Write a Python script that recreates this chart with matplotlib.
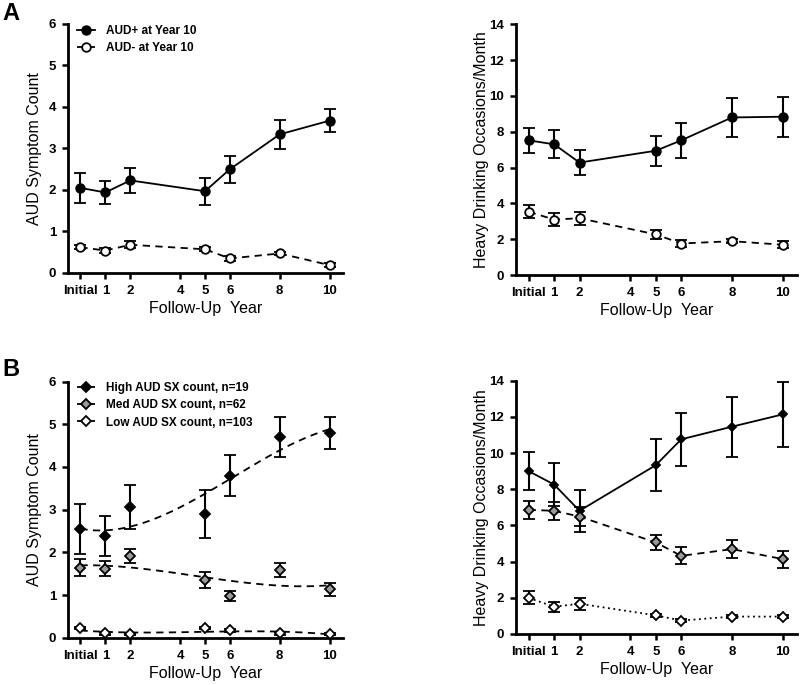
import numpy as np
import matplotlib.pyplot as plt

plt.rcParams['font.family'] = ['Liberation Sans', 'DejaVu Sans']

years = [0, 1, 2, 5, 6, 8, 10]
tick_pos = [0, 1, 2, 4, 5, 6, 8, 10]
tick_labels = ['Initial', '1', '2', '4', '5', '6', '8', '10']

# Panel A - AUD symptom count
a_sx_pos = [2.05, 1.94, 2.23, 1.97, 2.50, 3.34, 3.67]
a_sx_pos_err = [0.36, 0.28, 0.31, 0.33, 0.33, 0.35, 0.27]
a_sx_neg = [0.62, 0.54, 0.68, 0.57, 0.35, 0.47, 0.19]
a_sx_neg_err = [0.05, 0.05, 0.08, 0.05, 0.05, 0.04, 0.04]

# Panel A - heavy drinking occasions
a_hd_pos = [7.52, 7.30, 6.28, 6.94, 7.52, 8.80, 8.84]
a_hd_pos_err = [0.71, 0.78, 0.70, 0.84, 0.97, 1.08, 1.12]
a_hd_neg = [3.53, 3.10, 3.17, 2.27, 1.76, 1.89, 1.69]
a_hd_neg_err = [0.36, 0.35, 0.35, 0.25, 0.20, 0.10, 0.20]

# Panel B - AUD symptom count by group
b_sx_high = [2.55, 2.38, 3.06, 2.90, 3.79, 4.70, 4.80]
b_sx_high_err = [0.58, 0.46, 0.52, 0.57, 0.48, 0.46, 0.37]
b_sx_med = [1.64, 1.62, 1.91, 1.35, 0.98, 1.59, 1.13]
b_sx_med_err = [0.20, 0.17, 0.17, 0.18, 0.12, 0.16, 0.15]
b_sx_low = [0.23, 0.10, 0.09, 0.23, 0.17, 0.10, 0.09]
b_sx_low_err = [0.03, 0.03, 0.03, 0.03, 0.03, 0.03, 0.03]

# fitted trend at each year
b_fit_high = [2.55, 2.52, 2.60, 3.38, 3.70, 4.40, 4.88]
b_fit_med = [1.70, 1.68, 1.65, 1.42, 1.33, 1.22, 1.23]
b_fit_low = [0.17, 0.14, 0.12, 0.14, 0.15, 0.14, 0.08]

# Panel B - heavy drinking by group
b_hd_high = [9.00, 8.26, 6.81, 9.33, 10.76, 11.46, 12.14]
b_hd_high_err = [1.04, 1.20, 1.16, 1.43, 1.47, 1.66, 1.80]
b_hd_med = [6.86, 6.81, 6.49, 5.06, 4.32, 4.69, 4.14]
b_hd_med_err = [0.50, 0.50, 0.52, 0.43, 0.47, 0.48, 0.47]
b_hd_low = [1.99, 1.51, 1.67, 1.03, 0.74, 0.96, 0.96]
b_hd_low_err = [0.36, 0.28, 0.34, 0.10, 0.08, 0.08, 0.08]

DASH = (0, (4, 3))
GREY = '#999999'


def style_axis(ax, ymax, ystep, ylabel):
    ax.set_xlim(-0.5, 10.55)
    ax.set_ylim(0, ymax)
    ax.set_xticks(tick_pos)
    ax.set_xticklabels(tick_labels)
    ax.set_yticks(np.arange(0, ymax + 1, ystep))
    for s in ['top', 'right']:
        ax.spines[s].set_visible(False)
    for s in ['left', 'bottom']:
        ax.spines[s].set_linewidth(2)
    ax.tick_params(width=1.8, length=4.5, labelsize=9.5, pad=4)
    for lab in ax.get_xticklabels() + ax.get_yticklabels():
        lab.set_fontweight('bold')
    ax.set_xlabel('Follow-Up  Year', fontsize=11.5, labelpad=3)
    ax.set_ylabel(ylabel, fontsize=11.5)
    ax.yaxis.set_label_coords(-0.095, 0.5)


def series(ax, y, err, ls, marker, fc, ms):
    ax.errorbar(years, y, yerr=err, color='black', ls=ls, lw=1.3,
                marker=marker, mfc=fc, mec='black', mew=1.3, ms=ms,
                capsize=4, elinewidth=1.5, capthick=1.5, zorder=3)


def handle(ls, marker, fc, ms):
    return plt.Line2D([], [], color='black', ls=ls, lw=1.3, marker=marker,
                      mfc=fc, mec='black', mew=1.3, ms=ms)


def add_legend(ax, handles, labels):
    leg = ax.legend(handles, labels, loc='upper left', frameon=False,
                    fontsize=8.5, handlelength=1.5, handletextpad=0.9,
                    bbox_to_anchor=(-0.005, 1.04), labelspacing=0.45)
    for t in leg.get_texts():
        t.set_fontweight('bold')


fig = plt.figure(figsize=(8, 6.85), dpi=100)
ax1 = fig.add_axes([0.085, 0.6015, 0.344, 0.3635])
ax2 = fig.add_axes([0.645, 0.5985, 0.351, 0.366])
ax3 = fig.add_axes([0.085, 0.069, 0.344, 0.374])
ax4 = fig.add_axes([0.645, 0.0745, 0.351, 0.3697])

# A left
series(ax1, a_sx_pos, a_sx_pos_err, '-', 'o', 'black', 6.2)
series(ax1, a_sx_neg, a_sx_neg_err, DASH, 'o', 'white', 6.2)
style_axis(ax1, 6, 1, 'AUD Symptom Count')
add_legend(ax1, [handle('-', 'o', 'black', 6.2), handle(DASH, 'o', 'white', 6.2)],
           ['AUD+ at Year 10', 'AUD- at Year 10'])

# A right
series(ax2, a_hd_pos, a_hd_pos_err, '-', 'o', 'black', 6.2)
series(ax2, a_hd_neg, a_hd_neg_err, DASH, 'o', 'white', 6.2)
style_axis(ax2, 14, 2, 'Heavy Drinking Occasions/Month')

# B left: points with fitted dashed trends
xs = np.linspace(0, 10, 200)
for fit in [b_fit_high, b_fit_med, b_fit_low]:
    coef = np.polyfit(years, fit, 3)
    ax3.plot(xs, np.polyval(coef, xs), color='black', lw=1.3, ls=DASH, zorder=2)
series(ax3, b_sx_high, b_sx_high_err, 'none', 'D', 'black', 4.8)
series(ax3, b_sx_med, b_sx_med_err, 'none', 'D', GREY, 5.6)
series(ax3, b_sx_low, b_sx_low_err, 'none', 'D', 'white', 4.8)
style_axis(ax3, 6, 1, 'AUD Symptom Count')
add_legend(ax3, [handle(DASH, 'D', 'black', 4.8), handle(DASH, 'D', GREY, 5.6),
                 handle(DASH, 'D', 'white', 4.8)],
           ['High AUD SX count, n=19', 'Med AUD SX count, n=62',
            'Low AUD SX count, n=103'])

# B right
series(ax4, b_hd_high, b_hd_high_err, '-', 'D', 'black', 4)
series(ax4, b_hd_med, b_hd_med_err, DASH, 'D', GREY, 5.6)
series(ax4, b_hd_low, b_hd_low_err, (0, (1, 2)), 'D', 'white', 4.8)
style_axis(ax4, 14, 2, 'Heavy Drinking Occasions/Month')

fig.text(0.003, 0.997, 'A', fontsize=17, fontweight='bold', va='top', ha='left')
fig.text(0.003, 0.478, 'B', fontsize=17, fontweight='bold', va='top', ha='left')

fig.savefig('out.png', dpi=100)
